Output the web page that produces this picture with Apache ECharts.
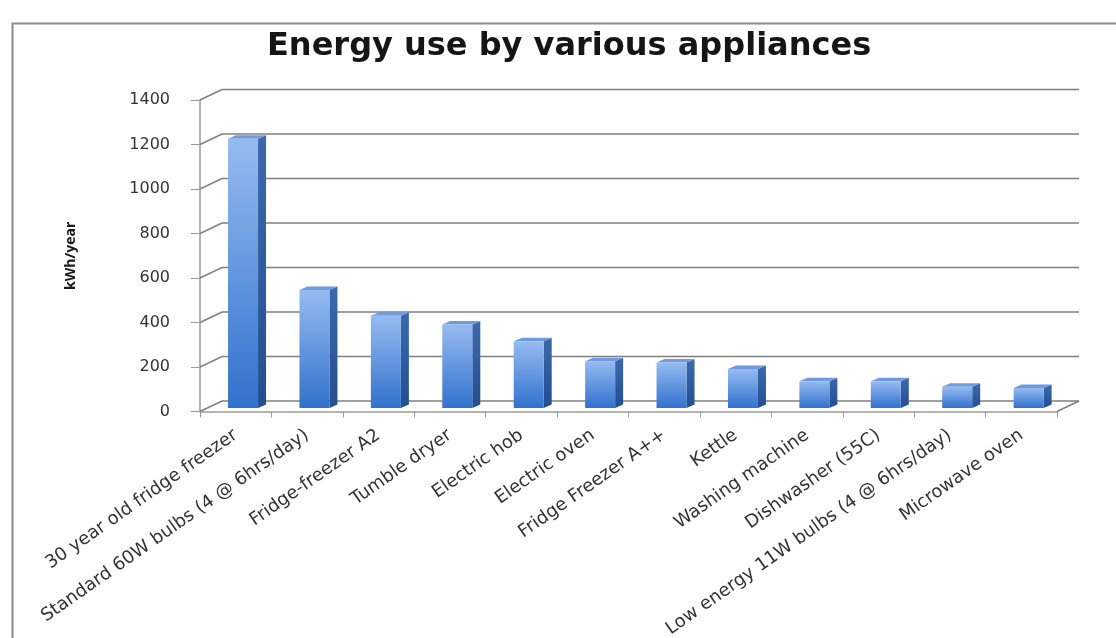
<!DOCTYPE html>
<html>
<head>
<meta charset="utf-8">
<title>Energy use by various appliances</title>
<script src="https://cdn.jsdelivr.net/npm/echarts@6.0.0/dist/echarts.min.js"></script>
<style>
  html, body { margin: 0; padding: 0; background: #fff; }
  #main { width: 1116px; height: 638px; }
</style>
</head>
<body>
<div id="main"></div>
<script>
// appliances, in the order shown
var appliances = [
  '30 year old fridge freezer',
  'Standard 60W bulbs (4 @ 6hrs/day)',
  'Fridge-freezer A2',
  'Tumble dryer',
  'Electric hob',
  'Electric oven',
  'Fridge Freezer A++',
  'Kettle',
  'Washing machine',
  'Dishwasher (55C)',
  'Low energy 11W bulbs (4 @ 6hrs/day)',
  'Microwave oven'
];
// kWh/year
var kwhPerYear = [1210, 530, 415, 375, 300, 210, 205, 175, 120, 120, 95, 90];
var yTicks = [0, 200, 400, 600, 800, 1000, 1200, 1400];

// 3d look: back wall offset and bar depth
var WALL_DX = 22, WALL_DY = -10.5;
var BAR_DX = 8, BAR_DY = -3.5;

var frontFill = new echarts.graphic.LinearGradient(0, 0, 0, 1, [
  { offset: 0, color: '#96bbf1' },
  { offset: 1, color: '#3171cd' }
]);
var sideFill = new echarts.graphic.LinearGradient(0, 0, 0, 1, [
  { offset: 0, color: '#3c68ad' },
  { offset: 1, color: '#234f91' }
]);

function renderBar(params, api) {
  var i = api.value(0), v = api.value(1);
  var base = api.coord([i, 0]);
  var top = api.coord([i, v]);
  var bw = api.size([1, 0])[0] * 0.42;
  // bar sits a third of the way into the depth
  var x = base[0] - bw / 2 + WALL_DX / 3;
  var y0 = base[1] + WALL_DY / 3;
  var y1 = top[1] + WALL_DY / 3;
  return {
    type: 'group',
    children: [
      { type: 'polygon', shape: { points: [[x + bw, y1], [x + bw + BAR_DX, y1 + BAR_DY], [x + bw + BAR_DX, y0 + BAR_DY], [x + bw, y0]] },
        style: { fill: sideFill } },
      { type: 'polygon', shape: { points: [[x, y1], [x + BAR_DX, y1 + BAR_DY], [x + bw + BAR_DX, y1 + BAR_DY], [x + bw, y1]] },
        style: { fill: '#6f9ae0' } },
      { type: 'rect', shape: { x: x, y: y1, width: bw, height: y0 - y1 },
        style: { fill: frontFill } }
    ]
  };
}

function renderWall(params, api) {
  var cs = params.coordSys;
  var v = api.value(1);
  var y = api.coord([0, v])[1];
  var x0 = cs.x, x1 = cs.x + cs.width;
  var kids = [{
    type: 'polyline',
    shape: { points: [[x0, y], [x0 + WALL_DX, y + WALL_DY], [x1 + WALL_DX, y + WALL_DY]] },
    style: { stroke: '#808080', lineWidth: 1.6, fill: null }
  }];
  if (v === 0) {
    kids.push({
      type: 'line',
      shape: { x1: x1, y1: y, x2: x1 + WALL_DX, y2: y + WALL_DY },
      style: { stroke: '#808080', lineWidth: 1.6 }
    });
  }
  return { type: 'group', children: kids };
}

var chart = echarts.init(document.getElementById('main'));
chart.setOption({
  animation: false,
  backgroundColor: '#fff',
  title: {
    text: 'Energy use by various appliances',
    left: 262,
    top: 26,
    textStyle: { fontFamily: 'DejaVu Sans', fontWeight: 'bold', fontSize: 32, color: '#151515' }
  },
  graphic: [{
    type: 'rect',
    left: 10, top: 21,
    shape: { width: 1200, height: 700 },
    style: { fill: null, stroke: '#8c8c8c', lineWidth: 2 },
    z: -1
  }],
  grid: { left: 200, right: 59, top: 100, bottom: 226.5, outerBoundsMode: 'none', containLabel: false },
  xAxis: {
    type: 'category',
    data: appliances,
    axisLine: { lineStyle: { color: '#9a9a9a', width: 1.5 } },
    axisTick: { show: true, length: 6, lineStyle: { color: '#9a9a9a' } },
    axisLabel: { interval: 0, rotate: 35, margin: 22, fontFamily: 'DejaVu Sans', fontSize: 18, color: '#333' }
  },
  yAxis: {
    type: 'value',
    min: 0, max: 1400, interval: 200,
    name: 'kWh/year',
    nameLocation: 'middle',
    nameGap: 122,
    nameTextStyle: { fontFamily: 'Open Sans', fontWeight: 'bold', fontSize: 14, color: '#1a1a1a' },
    axisLine: { show: true, lineStyle: { color: '#9a9a9a', width: 1.5 } },
    axisTick: { show: true, length: 9, lineStyle: { color: '#9a9a9a' } },
    axisLabel: { margin: 30, fontFamily: 'DejaVu Sans', fontSize: 16, color: '#333',
      formatter: function (v) { return String(v); } },
    splitLine: { show: false }
  },
  series: [{
    type: 'custom',
    name: 'walls',
    renderItem: renderWall,
    data: yTicks.map(function (t) { return [0, t]; }),
    encode: { x: 0, y: 1 },
    silent: true,
    z: 1
  }, {
    type: 'custom',
    name: 'kWh/year',
    renderItem: renderBar,
    data: kwhPerYear.map(function (v, i) { return [i, v]; }),
    encode: { x: 0, y: 1 },
    z: 2
  }]
});
</script>
</body>
</html>
